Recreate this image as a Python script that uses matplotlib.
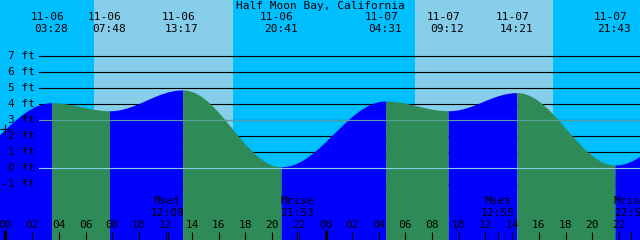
import numpy as np
import matplotlib.pyplot as plt
import matplotlib.transforms as mtransforms

title = "Half Moon Bay, California"

# tide events (hi / lo)
tide_dates = ["11-06", "11-06", "11-06", "11-06", "11-07", "11-07", "11-07", "11-07"]
tide_times = ["03:28", "07:48", "13:17", "20:41", "04:31", "09:12", "14:21", "21:43"]
tide_days = [0, 0, 0, 0, 1, 1, 1, 1]
tide_heights = [4.08, 3.58, 4.88, 0.08, 4.19, 3.58, 4.71, 0.19]

# estimated events just outside the window (curve ends)
edge_times = ["19:40", "05:35"]
edge_days = [-1, 2]
edge_heights = [0.10, 4.30]

sunrise_times = ["06:38", "06:43"]
sunset_times = ["17:04", "17:04"]

moon_names = ["Mset", "Mrise", "Mset", "Mrise"]
moon_times = ["12:09", "21:53", "12:55", "22:53"]
moon_days = [0, 0, 1, 1]

height_levels = [7, 6, 5, 4, 3, 2, 1, 0, -1]
hour_ticks = list(range(0, 50, 2))

night_col = "#00BFFF"
day_col = "#87CEEB"
rise_col = "#0000FF"
fall_col = "#2E8B57"

plt.rcParams['font.family'] = ['DejaVu Sans Mono']
fs = 8


def hours(t, day):
    h, m = t.split(':')
    return day * 24 + int(h) + int(m) / 60.0


def tide_curve(ts, T, H):
    out = np.zeros_like(ts)
    for i in range(len(T) - 1):
        m = (ts >= T[i]) & (ts <= T[i + 1])
        f = (ts[m] - T[i]) / (T[i + 1] - T[i])
        out[m] = H[i] + (H[i + 1] - H[i]) * (1 - np.cos(np.pi * f)) / 2.0
    return out


T = [hours(edge_times[0], edge_days[0])] + [hours(t, d) for t, d in zip(tide_times, tide_days)] + \
    [hours(edge_times[1], edge_days[1])]
H = [edge_heights[0]] + tide_heights + [edge_heights[1]]

fig = plt.figure(figsize=(6.4, 2.4), dpi=100)
ax = fig.add_axes([0, 0, 1, 1])
px = 320.0 / 24.0
ax.set_xlim(-5.5 / px, 634.5 / px)
ax.set_ylim(-4.5, 10.5)
ax.set_facecolor(night_col)
for s in ax.spines.values():
    s.set_visible(False)
ax.set_xticks([])
ax.set_yticks([])

for d, (sr, ss) in enumerate(zip(sunrise_times, sunset_times)):
    ax.axvspan(hours(sr, d), hours(ss, d), color=day_col, lw=0, zorder=0)

for lvl in height_levels:
    ax.axhline(lvl, xmin=39 / 640.0, xmax=1, color='black', lw=0.8, zorder=1)

# water
for i in range(len(T) - 1):
    ts = np.linspace(T[i], T[i + 1], 300)
    hs = tide_curve(ts, T, H)
    col = rise_col if H[i + 1] > H[i] else fall_col
    ax.fill_between(ts, hs, -5, color=col, lw=0, zorder=2)

ax.axhline(3, xmin=39 / 640.0, xmax=1, color='#5F9EA0', lw=0.8, zorder=3)
ax.axhline(0, xmin=39 / 640.0, xmax=1, color='#87CEEB', lw=0.8, zorder=3)

# current level marker
ax.plot([0], tide_curve(np.array([0.0]), T, H), marker='+', ms=7, mew=0.8, color='black', zorder=4)

yl = mtransforms.blended_transform_factory(ax.transAxes, ax.transData)
for lvl in height_levels:
    ax.text(35 / 640.0, lvl, "%d ft" % lvl, transform=yl, ha='right', va='center', fontsize=fs, zorder=5)

xt = mtransforms.blended_transform_factory(ax.transData, ax.transAxes)
ax.text(0.5, 1 - 6 / 240.0, title, transform=ax.transAxes, ha='center', va='center', fontsize=fs)

for dt, tm, d in zip(tide_dates, tide_times, tide_days):
    h = hours(tm, d)
    ax.annotate(dt, xy=(h, 1 - 17.5 / 240.0), xycoords=xt, xytext=(-3.2, 0), textcoords='offset points',
                ha='center', va='center', fontsize=fs)
    ax.annotate(tm, xy=(h, 1 - 29 / 240.0), xycoords=xt, xytext=(-0.5, 0), textcoords='offset points',
                ha='center', va='center', fontsize=fs)

for nm, tm, d in zip(moon_names, moon_times, moon_days):
    h = hours(tm, d)
    ax.text(h, 1 - 201 / 240.0, nm, transform=xt, ha='center', va='center', fontsize=fs, zorder=5)
    ax.text(h, 1 - 213.5 / 240.0, tm, transform=xt, ha='center', va='center', fontsize=fs, zorder=5)
    ax.vlines(h, 0, 8 / 240.0, transform=xt, color='black', lw=0.8, zorder=5)

for h in hour_ticks:
    ax.text(h, 1 - 225.5 / 240.0, "%02d" % (h % 24), transform=xt, ha='center', va='center', fontsize=fs, zorder=5)
    if h % 24 == 0:
        ax.vlines(h, 0, 10 / 240.0, transform=xt, color='black', lw=2.2, zorder=5)
    else:
        ax.vlines(h, 0, 8 / 240.0, transform=xt, color='black', lw=0.8, zorder=5)

fig.savefig("out.png", dpi=100)
